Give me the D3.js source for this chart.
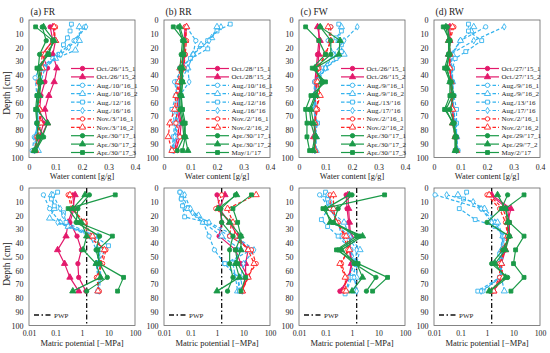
<!DOCTYPE html>
<html>
<head>
<meta charset="utf-8">
<script src="https://cdnjs.cloudflare.com/ajax/libs/d3/7.8.5/d3.min.js"></script>
<style>
body{margin:0;background:#fff}
svg text{font-family:"Liberation Serif","Times New Roman","DejaVu Serif",serif;fill:#222}
</style>
</head>
<body>
<div id="chart"></div>
<script>
// labels
var panelNames=['(a) FR','(b) RR','(c) FW','(d) RW']
var legFR=['Oct./26/’15_1','Oct./26/’15_2','Aug./10/’16_1','Aug./10/’16_2','Aug./12/’16','Aug./16/’16','Nov./3/’16_1','Nov./3/’16_2','Apr./30/’17_1','Apr./30/’17_2','Apr./30/’17_3']
var legRR=['Oct./28/’15_1','Oct./28/’15_2','Aug./10/’16_1','Aug./10/’16_2','Aug./12/’16','Aug./16/’16','Nov./2/’16_1','Nov./2/’16_2','Apr./30/’17_1','Apr./30/’17_2','May/1/’17']
var legFW=['Oct./26/’15_1','Oct./26/’15_2','Aug./9/’16_1','Aug./9/’16_2','Aug./13/’16','Aug./17/’16','Nov./2/’16_1','Nov./2/’16_2','Apr./30/’17_1','Apr./30/’17_2','Apr./30/’17_3']
var legRW=['Oct./27/’15_1','Oct./27/’15_2','Aug./9/’16_1','Aug./9/’16_2','Aug./13/’16','Aug./17/’16','Nov./2/’16_1','Nov./2/’16_2','Apr./29/’17_1','Apr./29/’7_2','May/2/’17']
var depthTicks=[0,10,20,30,40,50,60,70,80,90,100]
var wcTicks=[0,0.1,0.2,0.3,0.4]
var mpTicks=[0.01,0.1,1,10,100]
var pwp=1.5

// water content [g/g], points are [depth, value]
var wcFR=[
 [[5,0.08],[15,0.09],[25,0.05],[35,0.07],[45,0.06],[55,0.045],[65,0.04],[75,0.055],[85,0.04],[95,0.03]],
 [[5,0.09],[15,0.1],[25,0.09],[35,0.105],[45,0.095],[55,0.075],[65,0.06],[75,0.07],[85,0.045],[95,0.03]],
 [[5,0.21],[15,0.17],[25,0.11],[28,0.09],[35,0.04],[42,0.023],[55,0.03],[65,0.03],[75,0.035],[85,0.02],[95,0.012]],
 [[5,0.19],[15,0.19],[22,0.175],[28,0.1],[35,0.05],[45,0.04],[55,0.035],[65,0.03],[75,0.035],[85,0.025],[95,0.035]],
 [[3,0.16],[8,0.155],[13,0.145],[18,0.13],[25,0.115],[35,0.05],[45,0.04],[55,0.035],[65,0.03],[75,0.03],[85,0.03],[95,0.02]],
 [[5,0.215],[15,0.175],[20,0.15],[25,0.12],[35,0.06],[45,0.045],[55,0.035],[65,0.035],[75,0.03],[85,0.025],[95,0.02]],
 [[5,0.1],[15,0.09],[25,0.05],[35,0.045],[45,0.035],[55,0.035],[65,0.04],[75,0.04],[85,0.03],[95,0.02]],
 [[5,0.095],[15,0.1],[25,0.06],[35,0.05],[45,0.04],[55,0.035],[65,0.04],[75,0.045],[85,0.035],[95,0.025]],
 [[5,0.05],[15,0.065],[25,0.04],[35,0.035],[45,0.045],[55,0.035],[65,0.03],[75,0.03],[85,0.055],[95,0.025]],
 [[5,0.055],[15,0.095],[25,0.07],[35,0.04],[45,0.045],[55,0.04],[65,0.03],[75,0.07],[85,0.05],[95,0.02]],
 [[5,0.025],[15,0.09],[25,0.075],[35,0.03],[45,0.04],[55,0.03],[65,0.025],[75,0.03],[85,0.035],[95,0.02]]
]
var wcRR=[
 [[5,0.08],[15,0.075],[25,0.08],[35,0.07],[45,0.065],[55,0.055],[65,0.05],[75,0.06],[85,0.05],[95,0.04]],
 [[5,0.085],[15,0.08],[25,0.075],[35,0.075],[45,0.06],[55,0.06],[65,0.055],[75,0.065],[85,0.06],[95,0.045]],
 [[5,0.085],[15,0.12],[25,0.11],[35,0.07],[45,0.04],[55,0.05],[65,0.04],[75,0.045],[85,0.04],[95,0.03]],
 [[5,0.2],[13,0.18],[18,0.14],[25,0.11],[35,0.09],[45,0.06],[55,0.065],[65,0.05],[75,0.05],[85,0.045],[95,0.035]],
 [[3,0.25],[8,0.2],[15,0.165],[21,0.165],[28,0.1],[35,0.06],[45,0.05],[55,0.045],[65,0.03],[75,0.04],[85,0.035],[95,0.03]],
 [[5,0.215],[15,0.17],[25,0.11],[35,0.09],[45,0.095],[55,0.06],[65,0.05],[75,0.045],[85,0.04],[95,0.035]],
 [[5,0.08],[15,0.085],[25,0.08],[35,0.075],[45,0.06],[55,0.05],[65,0.05],[75,0.045],[85,0.06],[95,0.04]],
 [[5,0.085],[15,0.08],[25,0.075],[35,0.06],[45,0.055],[55,0.045],[65,0.04],[75,0.022],[85,0.016],[95,0.03]],
 [[5,0.055],[15,0.07],[25,0.065],[35,0.06],[45,0.065],[55,0.06],[65,0.06],[75,0.07],[85,0.075],[95,0.05]],
 [[5,0.06],[15,0.075],[25,0.07],[35,0.07],[45,0.07],[55,0.065],[65,0.065],[75,0.075],[85,0.08],[95,0.09]],
 [[5,0.035],[15,0.075],[25,0.075],[35,0.065],[45,0.07],[55,0.065],[65,0.07],[75,0.08],[85,0.08],[95,0.07]]
]
var wcFW=[
 [[5,0.075],[15,0.075],[25,0.07],[35,0.065],[45,0.06],[55,0.06],[65,0.06],[75,0.06],[85,0.06],[95,0.06]],
 [[5,0.07],[15,0.08],[25,0.075],[35,0.07],[45,0.065],[55,0.06],[65,0.065],[75,0.06],[85,0.055],[95,0.06]],
 [[5,0.12],[15,0.11],[25,0.13],[35,0.09],[45,0.06],[55,0.055],[65,0.06],[75,0.06],[85,0.06],[95,0.06]],
 [[5,0.16],[15,0.15],[25,0.17],[35,0.1],[45,0.07],[55,0.06],[65,0.065],[75,0.06],[85,0.065],[95,0.065]],
 [[3,0.15],[8,0.16],[13,0.14],[18,0.16],[23,0.16],[28,0.14],[35,0.1],[45,0.06],[55,0.06],[65,0.055],[75,0.07],[85,0.06],[95,0.06]],
 [[5,0.22],[15,0.17],[25,0.13],[35,0.1],[45,0.07],[55,0.06],[65,0.06],[75,0.065],[85,0.06],[95,0.06]],
 [[5,0.12],[15,0.12],[25,0.1],[35,0.075],[45,0.065],[55,0.07],[65,0.07],[75,0.06],[85,0.06],[95,0.06]],
 [[5,0.11],[15,0.12],[25,0.1],[35,0.07],[45,0.07],[55,0.08],[65,0.065],[75,0.06],[85,0.06],[95,0.06]],
 [[5,0.08],[15,0.12],[25,0.12],[35,0.06],[45,0.09],[55,0.06],[65,0.04],[75,0.045],[85,0.06],[95,0.05]],
 [[5,0.08],[15,0.155],[25,0.15],[35,0.06],[45,0.085],[55,0.065],[65,0.045],[75,0.055],[85,0.065],[95,0.055]],
 [[5,0.025],[15,0.075],[25,0.1],[35,0.05],[45,0.1],[55,0.045],[65,0.025],[75,0.03],[85,0.03],[95,0.04]]
]
var wcRW=[
 [[5,0.055],[15,0.055],[25,0.06],[35,0.06],[45,0.065],[55,0.07],[65,0.07],[75,0.075],[85,0.08],[95,0.085]],
 [[5,0.06],[15,0.06],[25,0.055],[35,0.06],[45,0.065],[55,0.065],[65,0.07],[75,0.075],[85,0.085],[95,0.085]],
 [[5,0.195],[15,0.1],[25,0.065],[35,0.065],[45,0.07],[55,0.07],[65,0.075],[75,0.08],[85,0.085],[95,0.09]],
 [[5,0.15],[8,0.14],[15,0.1],[25,0.07],[35,0.065],[45,0.07],[55,0.07],[65,0.075],[75,0.08],[85,0.085],[95,0.085]],
 [[3,0.13],[8,0.13],[15,0.18],[23,0.12],[28,0.08],[35,0.07],[45,0.07],[55,0.075],[65,0.085],[75,0.085],[85,0.085],[95,0.09]],
 [[5,0.265],[15,0.15],[25,0.06],[35,0.065],[45,0.07],[55,0.07],[65,0.07],[75,0.08],[85,0.085],[95,0.085]],
 [[5,0.075],[15,0.06],[25,0.06],[35,0.06],[45,0.065],[55,0.065],[65,0.07],[75,0.075],[85,0.08],[95,0.085]],
 [[5,0.07],[15,0.055],[25,0.06],[35,0.06],[45,0.065],[55,0.07],[65,0.07],[75,0.07],[85,0.08],[95,0.085]],
 [[5,0.05],[15,0.06],[25,0.06],[35,0.045],[45,0.065],[55,0.075],[65,0.06],[75,0.075],[85,0.085],[95,0.085]],
 [[5,0.045],[15,0.055],[25,0.055],[35,0.05],[45,0.06],[55,0.07],[65,0.045],[75,0.07],[85,0.08],[95,0.08]],
 [[5,0.035],[15,0.06],[25,0.055],[35,0.04],[45,0.06],[55,0.06],[65,0.04],[75,0.075],[85,0.08],[95,0.08]]
]

// matric potential [-MPa], points are [depth, value]
var mpFR=[
 [[5,0.45],[15,0.5],[25,0.35],[35,0.65],[45,0.95],[55,0.7],[65,0.75],[75,1.4]],
 [[5,0.55],[15,0.45],[25,0.3],[35,0.25],[45,0.12],[55,0.22],[65,0.35],[75,0.75]],
 [[5,0.035],[15,0.06],[25,0.15],[35,2.5],[45,4.5],[55,3.5],[65,4],[75,4.2]],
 [[5,0.07],[15,0.09],[22,0.06],[28,0.3],[35,4],[45,5],[55,4],[65,4.5],[75,4]],
 [[3,0.12],[8,0.07],[13,0.09],[18,0.2],[25,0.25],[35,3],[42,10],[55,3.5],[65,4],[75,4]],
 [[5,0.08],[15,0.15],[20,0.2],[25,0.12],[35,2],[45,3.5],[55,5],[65,5],[75,4.5]],
 [[5,0.3],[15,0.4],[25,1.3],[35,1.6],[45,8],[55,6],[65,3.5],[75,4.5]],
 [[5,0.35],[15,0.45],[25,1.2],[35,2.5],[45,7],[55,5],[65,4],[75,4]],
 [[5,1.9],[15,0.7],[25,0.6],[35,4.6],[45,3.4],[55,4.6],[65,9],[75,1.5]],
 [[5,1.3],[15,0.45],[25,0.95],[35,1.5],[45,1.1],[55,3.4],[65,5],[75,0.45]],
 [[5,18],[15,0.3],[25,0.7],[35,14],[45,4],[55,4.6],[65,37],[75,22]]
]
var mpRR=[
 [[5,1],[15,1.3],[25,1.5],[35,1.2],[45,5],[55,8],[65,15],[75,8]],
 [[5,2],[15,1.2],[25,3],[35,6],[45,15],[55,12],[65,12],[75,9]],
 [[3,0.04],[8,0.045],[15,0.07],[25,0.3],[35,0.5],[45,0.8],[55,1.9],[65,6],[75,8]],
 [[5,0.05],[15,0.08],[20,0.2],[25,0.3],[35,1.5],[45,8],[55,4],[65,5],[75,6]],
 [[3,0.04],[8,0.045],[13,0.05],[21,0.06],[25,0.4],[35,3],[45,20],[55,2],[65,6],[75,7]],
 [[5,0.06],[15,0.1],[18,0.12],[25,0.5],[35,5],[45,25],[55,10],[65,8],[75,9]],
 [[5,1.5],[15,0.9],[25,3.5],[35,3],[45,20],[55,30],[65,14],[75,9]],
 [[5,30],[15,2.5],[25,4],[35,5],[45,15],[55,25],[65,15],[75,9]],
 [[5,5],[15,1.4],[25,1.5],[35,4],[45,3],[55,3],[65,4],[75,2.5]],
 [[5,5.5],[15,1.1],[25,3],[35,8],[45,8],[55,5],[65,7],[75,1]],
 [[5,20],[15,4],[25,6],[35,8],[45,5],[55,6],[65,12],[75,8]]
]
var mpFW=[
 [[5,0.6],[15,0.65],[25,0.75],[35,0.8],[45,0.85],[55,1],[65,0.8],[75,0.35]],
 [[5,0.7],[15,0.75],[25,0.8],[35,0.9],[45,0.8],[55,0.95],[65,0.75],[75,0.4]],
 [[5,0.06],[15,0.15],[25,0.3],[35,0.4],[45,0.9],[55,1.2],[65,0.8],[75,0.6]],
 [[5,0.1],[15,0.12],[25,0.5],[35,0.8],[45,2],[55,1.5],[65,1.5],[75,1.2]],
 [[3,0.1],[8,0.12],[13,0.15],[23,0.07],[28,0.12],[35,0.3],[45,0.9],[55,1.5],[65,1],[77,0.55]],
 [[5,0.12],[10,0.15],[15,0.2],[25,0.25],[35,0.7],[45,1.5],[55,1.3],[65,1.2],[75,1.5]],
 [[5,0.15],[15,0.15],[25,0.3],[35,0.5],[45,0.7],[55,0.4],[65,0.6],[75,0.5]],
 [[5,0.2],[15,0.2],[25,0.25],[35,0.6],[45,0.8],[55,0.35],[65,0.55],[75,0.6]],
 [[5,1],[15,0.3],[25,0.2],[35,2],[45,0.3],[55,1.2],[65,8],[75,3.5]],
 [[5,0.8],[15,0.1],[25,0.15],[35,2.5],[45,0.4],[55,1.5],[65,2.5],[75,1]],
 [[5,17],[15,0.08],[25,0.19],[35,1.5],[45,0.26],[55,1.7],[65,22],[75,6]]
]
var mpRW=[
 [[5,1.3],[15,6],[25,7],[35,7],[45,4.5],[55,3],[65,4],[75,1.4]],
 [[5,1.5],[15,8],[25,6],[35,6],[45,5],[55,3.5],[65,3.5],[75,1.8]],
 [[5,0.011],[15,0.6],[25,2],[35,4],[45,4],[55,3.5],[65,3],[75,0.7]],
 [[5,0.08],[15,0.8],[25,2.5],[35,4],[45,3.5],[55,3],[65,3.5],[75,4.5]],
 [[3,0.17],[8,0.13],[15,0.09],[23,0.36],[28,2],[35,4],[48,3],[55,3],[65,3],[75,0.45]],
 [[5,0.03],[10,0.3],[15,0.6],[25,1.5],[35,4.5],[45,4],[55,3.5],[65,3.5],[75,0.6]],
 [[5,1],[15,3],[25,5],[35,6],[45,5],[55,3],[65,3],[75,1.6]],
 [[5,1.2],[15,4],[25,6],[35,6],[45,4],[55,3.5],[65,4],[75,1.8]],
 [[5,6],[15,3.5],[25,1],[35,7],[45,4],[55,1.5],[65,6],[75,1.3]],
 [[5,2.5],[15,5],[25,6],[35,7],[45,5],[55,2],[65,5],[75,1.2]],
 [[5,25],[15,5],[25,7],[35,25],[45,12],[55,10],[65,25],[75,8]]
]

var legends=[legFR,legRR,legFW,legRW]
var wcAll=[wcFR,wcRR,wcFW,wcRW]
var mpAll=[mpFR,mpRR,mpFW,mpRW]

// series look, same order in every panel
var pink='#e3196b', blue='#35b3ee', red='#ff2424', green='#1b9a48'
var styles=[
 {c:pink,d:null,m:d3.symbolCircle,f:true},
 {c:pink,d:null,m:d3.symbolTriangle,f:true},
 {c:blue,d:'3.5,2',m:d3.symbolCircle,f:false},
 {c:blue,d:'3.5,2',m:d3.symbolTriangle,f:false},
 {c:blue,d:'3.5,2',m:d3.symbolSquare,f:false},
 {c:blue,d:'3.5,2',m:d3.symbolDiamond,f:false},
 {c:red,d:'3.5,2',m:d3.symbolCircle,f:false},
 {c:red,d:'3.5,2',m:d3.symbolTriangle,f:false},
 {c:green,d:null,m:d3.symbolCircle,f:true},
 {c:green,d:null,m:d3.symbolTriangle,f:true},
 {c:green,d:null,m:d3.symbolSquare,f:true}
]
function sz(m){
  if(m==d3.symbolCircle) return 15
  if(m==d3.symbolTriangle) return 17
  if(m==d3.symbolSquare) return 15
  return 12
}
var FONT='"Liberation Serif","Times New Roman","DejaVu Serif",serif'

var W=550,H=353
var svg=d3.select('#chart').append('svg').attr('width',W).attr('height',H)
  .attr('font-family',FONT)
var lefts=[29,164,299,434], pw=106
var topRow={y0:20,y1:157.5}, botRow={y0:188,y1:325.5}

function drawSeries(g,data,xs,ys){
  data.forEach(function(s,i){
    var st=styles[i]
    var line=d3.line().x(d=>xs(d[1])).y(d=>ys(d[0]))
    g.append('path').attr('d',line(s)).attr('fill','none')
      .attr('stroke',st.c).attr('stroke-width',1.2)
      .attr('stroke-dasharray',st.d)
    g.selectAll(null).data(s).enter().append('path')
      .attr('d',d3.symbol().type(st.m).size(sz(st.m)))
      .attr('transform',d=>`translate(${xs(d[1])},${ys(d[0])})`)
      .attr('fill',st.f?st.c:'#fff').attr('stroke',st.c).attr('stroke-width',0.9)
  })
}

function styleAxis(fs){
  return function(a){
    a.select('.domain').remove()
    a.attr('font-family',FONT)
    a.selectAll('text').attr('font-size',fs).attr('fill','#222')
  }
}

function yAxis(g,ys,left){
  g.append('g').attr('transform',`translate(${left},0)`)
    .call(d3.axisLeft(ys).tickValues(depthTicks).tickSize(0).tickPadding(5.5))
    .call(styleAxis(8))
}

for(var k=0;k<4;k++){
  var L=lefts[k]
  // water content panel
  var xw=d3.scaleLinear().domain([0,0.4]).range([L,L+pw])
  var yw=d3.scaleLinear().domain([0,100]).range([topRow.y0,topRow.y1])
  var g=svg.append('g')
  g.append('rect').attr('x',L).attr('y',topRow.y0).attr('width',pw).attr('height',topRow.y1-topRow.y0)
    .attr('fill','none').attr('stroke','#666').attr('stroke-width',0.8)
  drawSeries(g,wcAll[k],xw,yw)
  yAxis(g,yw,L)
  g.append('g').attr('transform',`translate(0,${topRow.y1})`)
    .call(d3.axisBottom(xw).tickValues(wcTicks).tickSize(0).tickPadding(7).tickFormat(d=>d==0?'0':String(d)))
    .call(styleAxis(7.8))
  g.append('text').attr('x',L+pw/2).attr('y',178.5).attr('text-anchor','middle')
    .attr('font-size',8.3).text('Water content [g/g]')
  g.append('text').attr('x',L+1.5).attr('y',14.5).attr('font-size',9.5).text(panelNames[k])

  // legend
  var lg=g.append('g')
  legends[k].forEach(function(t,i){
    var st=styles[i], yy=68.5+i*8.4, lx=L+42
    lg.append('line').attr('x1',lx).attr('x2',lx+23).attr('y1',yy).attr('y2',yy)
      .attr('stroke',st.c).attr('stroke-width',1.2).attr('stroke-dasharray',st.d)
    lg.append('path').attr('d',d3.symbol().type(st.m).size(sz(st.m)))
      .attr('transform',`translate(${lx+11.5},${yy})`)
      .attr('fill',st.f?st.c:'#fff').attr('stroke',st.c).attr('stroke-width',0.9)
    lg.append('text').attr('x',lx+25.5).attr('y',yy+2.4).attr('font-size',7).text(t)
  })

  // matric potential panel
  var xm=d3.scaleLog().domain([0.01,100]).range([L,L+pw])
  var ym=d3.scaleLinear().domain([0,100]).range([botRow.y0,botRow.y1])
  var h=svg.append('g')
  h.append('rect').attr('x',L).attr('y',botRow.y0).attr('width',pw).attr('height',botRow.y1-botRow.y0)
    .attr('fill','none').attr('stroke','#666').attr('stroke-width',0.8)
  h.append('line').attr('x1',xm(pwp)).attr('x2',xm(pwp)).attr('y1',botRow.y0).attr('y2',botRow.y1)
    .attr('stroke','#111').attr('stroke-width',1.3).attr('stroke-dasharray','5,2.5,1.5,2.5')
  drawSeries(h,mpAll[k],xm,ym)
  yAxis(h,ym,L)
  h.append('g').attr('transform',`translate(0,${botRow.y1})`)
    .call(d3.axisBottom(xm).tickValues(mpTicks).tickSize(0).tickPadding(4.5).tickFormat(d=>String(d)))
    .call(styleAxis(7.8))
  h.append('text').attr('x',L+pw/2).attr('y',345.5).attr('text-anchor','middle')
    .attr('font-size',8.5).text('Matric potential [−MPa]')
  h.append('line').attr('x1',L+5).attr('x2',L+22).attr('y1',315).attr('y2',315)
    .attr('stroke','#111').attr('stroke-width',1.3).attr('stroke-dasharray','5,2.5,1.5,2.5')
  h.append('text').attr('x',L+25).attr('y',317.5).attr('font-size',7).text('PWP')
}

// y titles
;[93,264].forEach(function(cy){
  svg.append('text').attr('transform',`translate(10,${cy}) rotate(-90)`)
    .attr('text-anchor','middle').attr('font-size',9.5).text('Depth [cm]')
})
</script>
</body>
</html>
